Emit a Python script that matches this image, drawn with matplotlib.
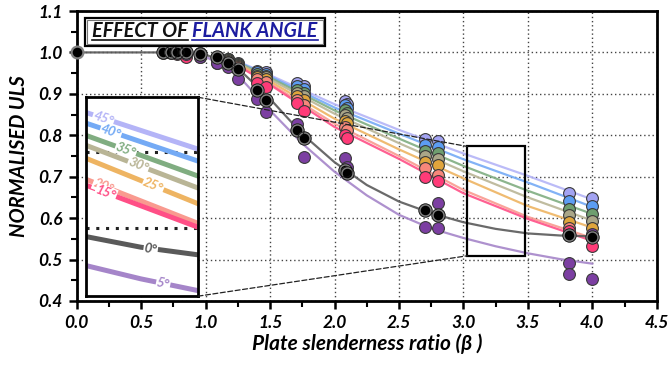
import numpy as np
import matplotlib
matplotlib.use("Agg")
import matplotlib.pyplot as plt
from matplotlib.patches import Rectangle, ConnectionPatch
from matplotlib.lines import Line2D

plt.rcParams['font.family'] = ['Lato', 'DejaVu Sans']

# ---- data ----
angles = ["45", "40", "35", "30", "25", "20", "15", "5", "0"]

beta_pts = [0.67, 0.73, 0.78, 0.85, 0.96, 1.09, 1.17, 1.25, 1.40, 1.47,
            1.71, 1.76, 2.08, 2.10, 2.70, 2.80, 3.82, 4.00]

uls_45 = [1.0, 1.0, 1.0, 1.0, 0.998, 0.990, 0.985, 0.975, 0.955, 0.952, 0.925, 0.920, 0.882, 0.875, 0.790, 0.787, 0.660, 0.648]
uls_40 = [1.0, 1.0, 1.0, 1.0, 0.998, 0.990, 0.984, 0.973, 0.952, 0.948, 0.918, 0.912, 0.872, 0.865, 0.776, 0.772, 0.641, 0.629]
uls_35 = [1.0, 1.0, 1.0, 1.0, 0.997, 0.989, 0.983, 0.972, 0.948, 0.944, 0.910, 0.903, 0.860, 0.853, 0.763, 0.756, 0.623, 0.611]
uls_30 = [1.0, 1.0, 1.0, 1.0, 0.997, 0.988, 0.982, 0.970, 0.944, 0.940, 0.902, 0.895, 0.848, 0.842, 0.750, 0.742, 0.607, 0.594]
uls_25 = [1.0, 1.0, 1.0, 0.999, 0.996, 0.986, 0.980, 0.968, 0.940, 0.935, 0.895, 0.886, 0.835, 0.830, 0.736, 0.728, 0.591, 0.575]
uls_20 = [1.0, 1.0, 0.999, 0.998, 0.994, 0.982, 0.978, 0.965, 0.935, 0.928, 0.886, 0.872, 0.820, 0.812, 0.720, 0.704, 0.575, 0.560]
uls_15 = [0.999, 0.998, 0.995, 0.988, 0.990, 0.975, 0.975, 0.960, 0.925, 0.917, 0.877, 0.859, 0.800, 0.793, 0.700, 0.690, 0.570, 0.533]
uls_5 = [1.0, 1.0, 0.998, 0.995, 0.990, 0.975, 0.965, 0.935, 0.887, 0.857, 0.827, 0.748, 0.744, 0.723, 0.579, 0.575, 0.492, 0.452]
uls_0 = [1.0, 1.0, 1.0, 1.0, 0.996, 0.988, 0.975, 0.960, 0.909, 0.885, 0.813, 0.793, 0.715, 0.708, 0.620, 0.607, 0.559, 0.554]

beta_5b = [2.80, 3.82, 4.00]
uls_5b = [0.636, 0.465, 0.562]
beta_origin = [0.0]
uls_origin = [1.0]

# fitted curves
fit_beta = [1.2, 1.5, 2.0, 2.5, 3.0, 3.5, 4.0]
fit_45 = [0.985, 0.945, 0.875, 0.813, 0.756, 0.702, 0.645]
fit_40 = [0.984, 0.942, 0.867, 0.804, 0.742, 0.686, 0.627]
fit_35 = [0.983, 0.939, 0.860, 0.792, 0.726, 0.666, 0.610]
fit_30 = [0.982, 0.935, 0.852, 0.781, 0.713, 0.650, 0.594]
fit_25 = [0.980, 0.930, 0.840, 0.766, 0.696, 0.629, 0.577]
fit_20 = [0.978, 0.925, 0.828, 0.750, 0.668, 0.603, 0.552]
fit_15 = [0.977, 0.922, 0.820, 0.743, 0.660, 0.598, 0.545]
fit_beta_0 = [0.0, 0.7, 1.0, 1.25, 1.5, 1.75, 2.0, 2.25, 2.5, 2.75, 3.0, 3.25, 3.5, 3.75, 4.0]
fit_0 = [1.0, 1.0, 0.995, 0.962, 0.888, 0.803, 0.735, 0.680, 0.640, 0.612, 0.590, 0.574, 0.563, 0.558, 0.556]
fit_beta_5 = [1.0, 1.25, 1.5, 1.75, 2.0, 2.25, 2.5, 2.75, 3.0, 3.25, 3.5, 3.75, 4.0]
fit_5 = [0.990, 0.945, 0.860, 0.780, 0.712, 0.655, 0.608, 0.575, 0.552, 0.532, 0.515, 0.501, 0.490]

uls = {"45": uls_45, "40": uls_40, "35": uls_35, "30": uls_30, "25": uls_25,
       "20": uls_20, "15": uls_15, "5": uls_5, "0": uls_0}
fits = {"45": (fit_beta, fit_45), "40": (fit_beta, fit_40), "35": (fit_beta, fit_35),
        "30": (fit_beta, fit_30), "25": (fit_beta, fit_25), "20": (fit_beta, fit_20),
        "15": (fit_beta, fit_15), "5": (fit_beta_5, fit_5), "0": (fit_beta_0, fit_0)}

mk_col = {"45": "#a3a3f2", "40": "#5c9df3", "35": "#6e9e6f", "30": "#aaa688",
          "25": "#e0a53c", "20": "#f7877a", "15": "#ff3b78", "5": "#7c3fa2", "0": "#000000"}
ln_col = {"45": "#b4b4f7", "40": "#74aaf5", "35": "#80ad81", "30": "#b9b596",
          "25": "#eeb462", "20": "#f99a8f", "15": "#ff4f86", "5": "#a585c9", "0": "#5a5a5a"}

bf = dict(fontweight="bold", fontstyle="italic")

fig = plt.figure(figsize=(6.7, 3.67), dpi=100)
ax = fig.add_axes([0.1145, 0.180, 0.8657, 0.790])

# fit lines
for a in angles:
    bx, by = fits[a]
    ax.plot(bx, by, color=ln_col[a], lw=1.6, alpha=0.9, zorder=2)

# markers
for a in angles:
    if a == "0":
        continue
    ax.plot(beta_pts, uls[a], "o", ms=8.5, mfc=mk_col[a], mec="#3a3a3a", mew=0.8, zorder=3)
    if a == "5":
        ax.plot(beta_5b, uls_5b, "o", ms=8.5, mfc=mk_col[a], mec="#3a3a3a", mew=0.8, zorder=3)
ax.plot(beta_pts, uls_0, "o", ms=8.5, mfc="#000000", mec="#808080", mew=1.6, zorder=4)
ax.plot(beta_pts, uls_0, "o", ms=9.6, mfc="none", mec="#111111", mew=0.6, zorder=4)
ax.plot(beta_origin, uls_origin, "o", ms=8.5, mfc="#000000", mec="#808080", mew=1.6, zorder=4, clip_on=False)

ax.set_xlim(0, 4.5)
ax.set_ylim(0.4, 1.1)
ax.set_xticks(np.arange(0, 4.51, 0.5))
ax.set_yticks(np.arange(0.4, 1.101, 0.1))
ax.set_xticks(np.arange(0, 4.51, 0.25), minor=True)
ax.set_yticks(np.arange(0.4, 1.101, 0.05), minor=True)
ax.set_xticklabels([f"{v:.1f}" for v in np.arange(0, 4.51, 0.5)], fontsize=12.5, **bf)
ax.set_yticklabels([f"{v:.1f}" for v in np.arange(0.4, 1.101, 0.1)], fontsize=12.5, **bf)
ax.tick_params(which="major", direction="out", length=6, width=1.8, pad=4)
ax.tick_params(which="minor", direction="out", length=4, width=1.5)
ax.grid(True, which="major", ls=(0, (1, 2)), color="#444444", lw=1.0)
for s in ax.spines.values():
    s.set_linewidth(2)
ax.set_xlabel("Plate slenderness ratio (β )", fontsize=15, labelpad=2, **bf)
ax.set_ylabel("NORMALISED ULS", fontsize=14.5, labelpad=7, **bf)

# zoom rectangle
zx0, zx1, zy0, zy1 = 3.03, 3.48, 0.509, 0.773
ax.add_patch(Rectangle((zx0, zy0), zx1 - zx0, zy1 - zy0, fill=False, ec="black", lw=1.6, zorder=5))

# inset
ins = fig.add_axes([0.1284, 0.193, 0.1672, 0.542])
ins.set_facecolor("white")
for a in angles:
    bx, by = fits[a]
    ins.plot(bx, by, color=ln_col[a], lw=3.6, zorder=2, solid_capstyle="butt")
ins.set_xlim(zx0, zx1)
ins.set_ylim(zy0, zy1)
ins.set_xticks([])
ins.set_yticks([])
for yv in [0.6, 0.7]:
    ins.axhline(yv, color="#222222", ls=(0, (1, 2.2)), lw=2.2, zorder=1)
for s in ins.spines.values():
    s.set_linewidth(2)
    s.set_color("black")

label_beta = {"45": 3.10, "40": 3.13, "35": 3.19, "30": 3.24, "25": 3.30,
              "20": 3.10, "15": 3.11, "0": 3.29, "5": 3.34}
fig.canvas.draw()
for a in angles:
    bx, by = fits[a]
    lb = label_beta[a]
    ly = np.interp(lb, bx, by)
    p1 = ins.transData.transform((lb - 0.02, np.interp(lb - 0.02, bx, by)))
    p2 = ins.transData.transform((lb + 0.02, np.interp(lb + 0.02, bx, by)))
    rot = np.degrees(np.arctan2(p2[1] - p1[1], p2[0] - p1[0]))
    ins.text(lb, ly, a + "°", color=ln_col[a], fontsize=9.5, rotation=rot,
             rotation_mode="anchor", ha="center", va="center", zorder=4,
             bbox=dict(boxstyle="square,pad=0.05", fc="white", ec="none"), **bf)

# connector lines
for ya, yb in [(1, zy1), (0, zy0)]:
    cp = ConnectionPatch(xyA=(1, ya), coordsA=ins.transAxes, xyB=(zx0, yb), coordsB=ax.transData,
                         ls=(0, (4, 2)), color="#222222", lw=0.9)
    fig.add_artist(cp)

# title box
t1 = ax.text(0.027, 0.912, "EFFECT OF ", transform=ax.transAxes, fontsize=14.3, color="#111111", zorder=7, **bf)
fig.canvas.draw()
bb1 = t1.get_window_extent()
inv = ax.transAxes.inverted()
x_end = inv.transform((bb1.x1, bb1.y0))[0]
t2 = ax.text(x_end, 0.912, "FLANK ANGLE", transform=ax.transAxes, fontsize=14.3, color="#1c1ca0", zorder=7, **bf)
fig.canvas.draw()
bb2 = t2.get_window_extent()
for t, c in [(t1, "#111111"), (t2, "#1c1ca0")]:
    b = t.get_window_extent()
    (x0, y0), (x1, y1) = inv.transform((b.x0, b.y0 + 1)), inv.transform((b.x1, b.y0 + 1))
    if t is t1:
        x1 = inv.transform((b.x1 - 4, 0))[0]
    ax.add_line(Line2D([x0, x1], [y0, y1], transform=ax.transAxes, color=c, lw=1.2, zorder=7))
(bx0, by0) = inv.transform((bb1.x0 - 7, bb1.y0 - 5))
(bx1, by1) = inv.transform((bb2.x1 + 7, bb2.y1 + 3))
ax.add_patch(Rectangle((bx0, by0), bx1 - bx0, by1 - by0, transform=ax.transAxes,
                       fc="white", ec="black", lw=1.6, zorder=6))
(ix0, iy0) = inv.transform((bb1.x0 - 5, bb1.y0 - 3))
(ix1, iy1) = inv.transform((bb2.x1 + 5, bb2.y1 + 1))
ax.add_patch(Rectangle((ix0, iy0), ix1 - ix0, iy1 - iy0, transform=ax.transAxes,
                       fc="none", ec="#777777", lw=0.8, zorder=6))

fig.savefig("out.png", dpi=100)
